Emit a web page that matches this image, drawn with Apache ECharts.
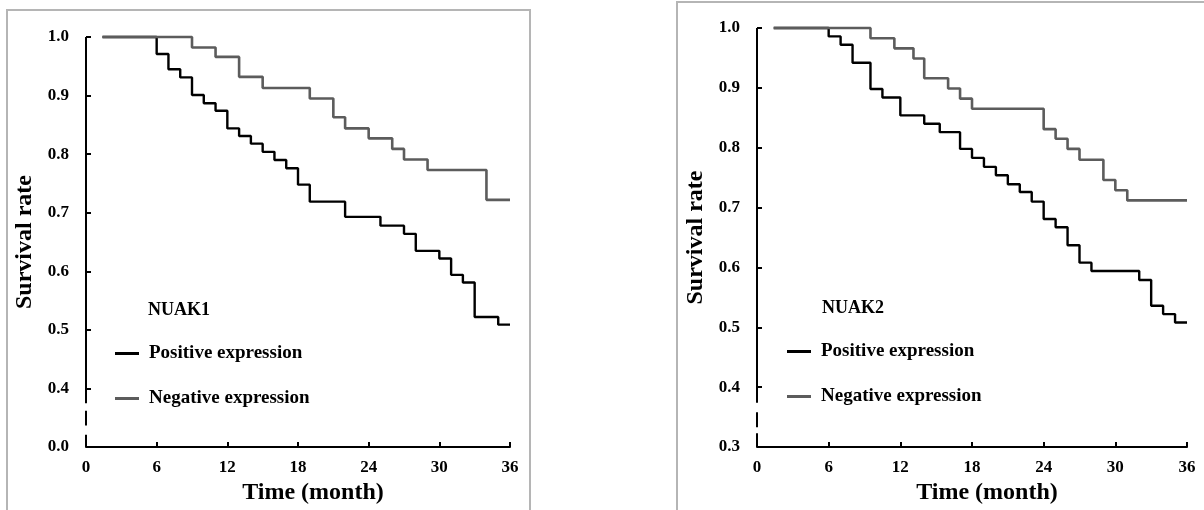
<!DOCTYPE html>
<html>
<head>
<meta charset="utf-8">
<title>NUAK1 / NUAK2 survival</title>
<script src="https://cdn.jsdelivr.net/npm/echarts@6.0.0/dist/echarts.min.js"></script>
<style>
body {
  margin: 0;
  background: #fff;
}
.frame {
  position: absolute;
  border: 2px solid #b5b5b5;
  box-sizing: border-box;
}
#frame1 { left: 6px; top: 9px; width: 525px; height: 530px; }
#frame2 { left: 676px; top: 1px; width: 560px; height: 530px; }
#chart {
  position: absolute;
  left: 0;
  top: 0;
  width: 1204px;
  height: 510px;
}
</style>
</head>
<body>
<div class="frame" id="frame1"></div>
<div class="frame" id="frame2"></div>
<div id="chart"></div>
<script>
// tick labels
const xTickLabels = ['0', '6', '12', '18', '24', '30', '36']
const yTickLabels1 = ['0.0', '0.4', '0.5', '0.6', '0.7', '0.8', '0.9', '1.0']
const yTickLabels2 = ['0.3', '0.4', '0.5', '0.6', '0.7', '0.8', '0.9', '1.0']

// NUAK1 (left panel)
const nuak1PosTime = [1.4, 6, 7, 8, 9, 10, 11, 12, 13, 14, 15, 16, 17, 18, 19, 22, 25, 27, 28, 30, 31, 32, 33, 35, 36]
const nuak1PosSurv = [1, 0.971, 0.945, 0.931, 0.901, 0.887, 0.874, 0.844, 0.831, 0.818, 0.804, 0.790, 0.776, 0.748, 0.719, 0.693, 0.678, 0.664, 0.635, 0.622, 0.594, 0.581, 0.522, 0.509, 0.509]
const nuak1NegTime = [1.4, 9, 11, 13, 15, 19, 21, 22, 24, 26, 27, 29, 34, 36]
const nuak1NegSurv = [1, 0.982, 0.966, 0.932, 0.913, 0.895, 0.863, 0.844, 0.827, 0.809, 0.791, 0.773, 0.722, 0.722]

// NUAK2 (right panel)
const nuak2PosTime = [1.4, 6, 7, 8, 9.5, 10.5, 12, 14, 15.3, 17, 18, 19, 20, 21, 22, 23, 24, 25, 26, 27, 28, 32, 33, 34, 35, 36]
const nuak2PosSurv = [1, 0.986, 0.972, 0.942, 0.898, 0.884, 0.854, 0.840, 0.826, 0.798, 0.783, 0.768, 0.754, 0.739, 0.726, 0.710, 0.681, 0.667, 0.637, 0.608, 0.594, 0.579, 0.536, 0.522, 0.508, 0.508]
const nuak2NegTime = [1.4, 9.5, 11.5, 13.1, 14, 16, 17, 18, 24, 25, 26, 27, 29, 30, 31, 36]
const nuak2NegSurv = [1, 0.983, 0.966, 0.949, 0.916, 0.899, 0.882, 0.865, 0.831, 0.815, 0.798, 0.780, 0.746, 0.729, 0.712, 0.712]

// broken y axis line pieces (axis values)
const axisPieces1 = [[1.0, 0.375], [0.362, 0.337], [0.321, 0.3]]
const axisPieces2 = [[1.0, 0.374], [0.358, 0.333], [0.323, 0.3]]

const font = '"Liberation Serif", "Times New Roman", serif'
const black = '#000'
const gray = '#5c5c5c'

function pairs(t, s) {
  return t.map((v, i) => [v, s[i]])
}

function xAxis(idx) {
  return {
    type: 'value',
    gridIndex: idx,
    min: 0,
    max: 36,
    interval: 6,
    name: 'Time (month)',
    nameLocation: 'middle',
    nameGap: 33,
    nameTextStyle: {
      fontFamily: font, fontSize: 24, fontWeight: 'bold', color: black,
      padding: [0, 0, 0, 30]
    },
    axisLine: { show: true, lineStyle: { color: black, width: 2 } },
    axisTick: { show: true, inside: true, length: 5, lineStyle: { color: black, width: 2 } },
    splitLine: { show: false },
    axisLabel: {
      margin: 12,
      fontFamily: font, fontSize: 17, fontWeight: 'bold', color: black,
      formatter: v => xTickLabels[Math.round(v / 6)]
    }
  }
}

function yAxis(idx, labels) {
  return {
    type: 'value',
    gridIndex: idx,
    min: 0.3,
    max: 1.0,
    interval: 0.1,
    name: 'Survival rate',
    nameLocation: 'middle',
    nameGap: 49,
    nameTextStyle: { fontFamily: font, fontSize: 24, fontWeight: 'bold', color: black },
    axisLine: { show: false },
    axisTick: { show: true, inside: true, length: 5, lineStyle: { color: black, width: 2 } },
    splitLine: { show: false },
    axisLabel: {
      margin: 17,
      fontFamily: font, fontSize: 17, fontWeight: 'bold', color: black,
      formatter: v => labels[Math.round((v - 0.3) * 10)]
    }
  }
}

function curve(name, idx, t, s, color, width, pieces) {
  const ser = {
    name: name,
    type: 'line',
    step: 'end',
    xAxisIndex: idx,
    yAxisIndex: idx,
    data: pairs(t, s),
    showSymbol: false,
    symbol: 'none',
    clip: false,
    silent: true,
    lineStyle: { color: color, width: width },
    itemStyle: { color: color }
  }
  if (pieces) {
    ser.markLine = {
      silent: true,
      symbol: ['none', 'none'],
      label: { show: false },
      lineStyle: { color: black, width: 2, type: 'solid' },
      data: pieces.map(p => [{ coord: [0, p[0]] }, { coord: [0, p[1]] }])
    }
  }
  return ser
}

function legend(left, top) {
  return {
    left: left,
    top: top,
    orient: 'vertical',
    padding: 0,
    itemGap: 26,
    itemWidth: 24,
    itemHeight: 3,
    icon: 'rect',
    selectedMode: false,
    data: ['Positive expression', 'Negative expression'],
    textStyle: {
      fontFamily: font, fontSize: 19, fontWeight: 'bold', color: black,
      padding: [0, 0, 0, 5]
    }
  }
}

const chart = echarts.init(document.getElementById('chart'))
const option = {
  animation: false,
  title: [
    { text: 'NUAK1', left: 148, top: 301, padding: 0,
      textStyle: { fontFamily: font, fontSize: 18, fontWeight: 'bold', color: black } },
    { text: 'NUAK2', left: 822, top: 299, padding: 0,
      textStyle: { fontFamily: font, fontSize: 18, fontWeight: 'bold', color: black } }
  ],
  legend: [legend(115, 344), legend(787, 342)],
  grid: [
    { left: 86, top: 37, width: 424, height: 412 },
    { left: 757, top: 28, width: 430, height: 419 }
  ],
  xAxis: [xAxis(0), xAxis(1)],
  yAxis: [yAxis(0, yTickLabels1), yAxis(1, yTickLabels2)],
  series: [
    curve('Positive expression', 0, nuak1PosTime, nuak1PosSurv, black, 2.4, axisPieces1),
    curve('Negative expression', 0, nuak1NegTime, nuak1NegSurv, gray, 2.6),
    curve('Positive expression', 1, nuak2PosTime, nuak2PosSurv, black, 2.4, axisPieces2),
    curve('Negative expression', 1, nuak2NegTime, nuak2NegSurv, gray, 2.6)
  ]
}
chart.setOption(option)
</script>
</body>
</html>
